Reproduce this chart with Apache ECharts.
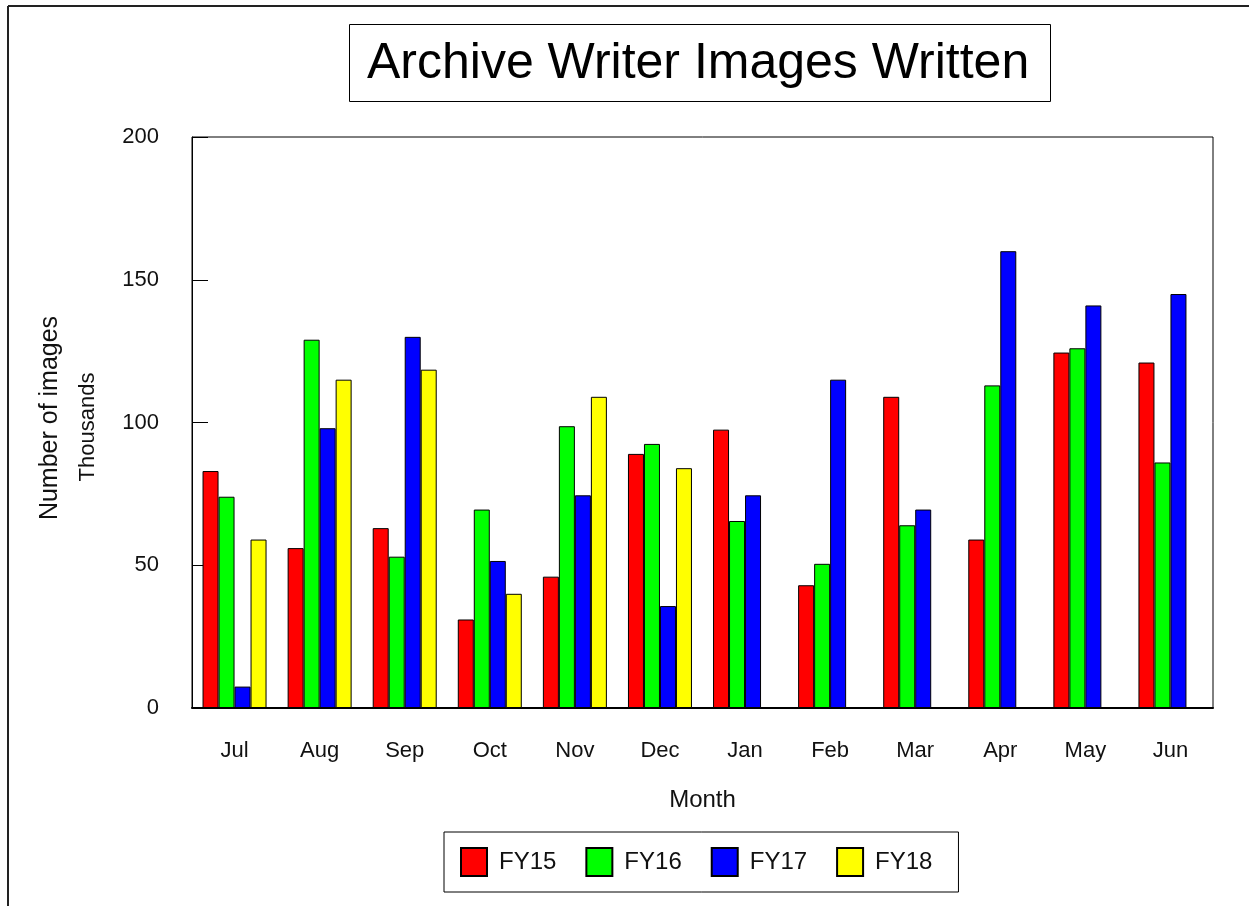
<!DOCTYPE html>
<html>
<head>
<meta charset="utf-8">
<title>Archive Writer Images Written</title>
<script src="https://cdn.jsdelivr.net/npm/echarts@6/dist/echarts.min.js"></script>
<style>
  html, body { margin: 0; padding: 0; background: #fff; }
  #main { width: 1249px; height: 906px; }
</style>
</head>
<body>
<div id="main"></div>
<script>
// data (thousands of images)
var months = ['Jul', 'Aug', 'Sep', 'Oct', 'Nov', 'Dec', 'Jan', 'Feb', 'Mar', 'Apr', 'May', 'Jun'];
var fy15 = [83, 56, 63, 31, 46, 89, 97.5, 43, 109, 59, 124.5, 121];
var fy16 = [74, 129, 53, 69.5, 98.7, 92.5, 65.5, 50.5, 64, 113, 126, 86];
var fy17 = [7.5, 98, 130, 51.5, 74.5, 35.7, 74.5, 115, 69.5, 160, 141, 145];
var fy18 = [59, 115, 118.5, 40, 109, 84, null, null, null, null, null, null];
var seriesNames = ['FY15', 'FY16', 'FY17', 'FY18'];
var seriesColors = ['#ff0000', '#00ff00', '#0000ff', '#ffff00'];

var font = "'Liberation Sans', Arial, sans-serif";
var chart = echarts.init(document.getElementById('main'), null, { renderer: 'canvas' });

function barSeries(name, data, color) {
  return {
    name: name,
    type: 'bar',
    data: data,
    barWidth: 16,
    barGap: '0%',
    itemStyle: { color: color, borderColor: '#000', borderWidth: 1 }
  };
}

var option = {
  backgroundColor: '#ffffff',
  animation: false,
  title: {
    text: 'Archive Writer Images Written',
    left: 349,
    top: 24,
    padding: [15, 22, 13, 18],
    borderColor: '#000',
    borderWidth: 1,
    textStyle: { fontFamily: font, fontSize: 50, fontWeight: 'normal', color: '#000', lineHeight: 50 }
  },
  legend: {
    data: seriesNames,
    left: 444,
    top: 832,
    padding: [15, 26, 15, 16],
    borderColor: '#000',
    borderWidth: 1,
    icon: 'rect',
    itemWidth: 26,
    itemHeight: 28,
    itemGap: 29,
    textStyle: { fontFamily: font, fontSize: 24, color: '#111', padding: [0, 0, 0, 7] }
  },
  grid: {
    left: 192,
    right: 36,
    top: 137,
    bottom: 198,
    show: true,
    borderColor: '#000',
    borderWidth: 1,
    containLabel: false
  },
  xAxis: {
    type: 'category',
    data: months,
    name: 'Month',
    nameLocation: 'middle',
    nameGap: 80,
    nameTextStyle: { fontFamily: font, fontSize: 24, color: '#111' },
    axisLine: { lineStyle: { color: '#000', width: 2 } },
    axisTick: { show: false },
    axisLabel: { fontFamily: font, fontSize: 22, color: '#111', margin: 32 }
  },
  yAxis: {
    type: 'value',
    min: 0,
    max: 200,
    interval: 50,
    axisLine: { show: true, lineStyle: { color: '#000', width: 1 } },
    axisTick: { show: true, inside: true, length: 16, lineStyle: { color: '#000' } },
    splitLine: { show: false },
    axisLabel: { fontFamily: font, fontSize: 22, color: '#111', margin: 33 }
  },
  graphic: [
    { type: 'line', shape: { x1: 8, y1: 6, x2: 1249, y2: 6 }, style: { stroke: '#222', lineWidth: 2 } },
    { type: 'line', shape: { x1: 8, y1: 6, x2: 8, y2: 906 }, style: { stroke: '#222', lineWidth: 2 } },
    {
      type: 'text', x: 50, y: 418, rotation: Math.PI / 2,
      style: { text: 'Number of images', fontFamily: font, fontSize: 25, fill: '#111', align: 'center', verticalAlign: 'middle' }
    },
    {
      type: 'text', x: 88, y: 427, rotation: Math.PI / 2,
      style: { text: 'Thousands', fontFamily: font, fontSize: 22, fill: '#111', align: 'center', verticalAlign: 'middle' }
    }
  ],
  series: [
    barSeries(seriesNames[0], fy15, seriesColors[0]),
    barSeries(seriesNames[1], fy16, seriesColors[1]),
    barSeries(seriesNames[2], fy17, seriesColors[2]),
    barSeries(seriesNames[3], fy18, seriesColors[3])
  ]
};

chart.setOption(option);
</script>
</body>
</html>
